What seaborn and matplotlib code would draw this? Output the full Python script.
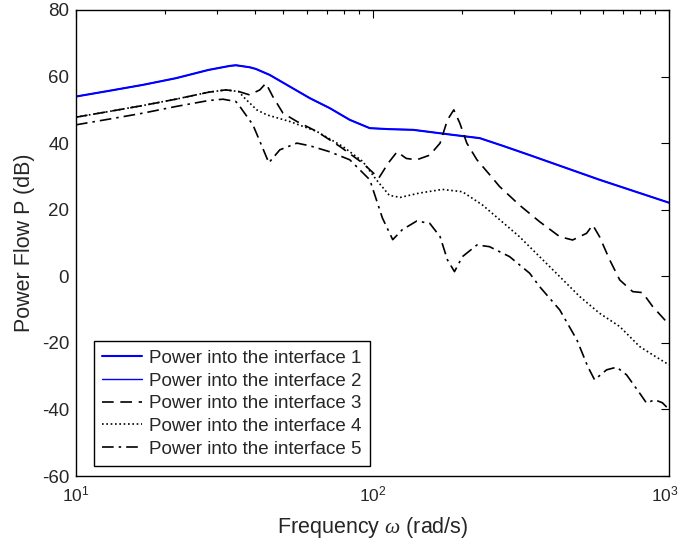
import numpy as np
import pandas as pd
import seaborn as sns
import matplotlib.pyplot as plt
import matplotlib.transforms as mtransforms

# values (frequency in rad/s, power in dB)
freq_12 = [10, 12.9, 16.8, 21.7, 28, 33, 34.6, 38.5, 40.4, 45, 52.6, 61.5, 71.8, 83.8,
           97.9, 114, 137, 186, 230, 275, 339, 583, 1000]
p_12 = [54.0, 55.7, 57.5, 59.5, 62.0, 63.2, 63.4, 62.8, 62.3, 60.5, 57.0, 53.5, 50.5, 47.0,
        44.5, 44.2, 44.0, 42.5, 41.5, 39.2, 36.4, 29.0, 22.1]

freq_3 = [10, 12.9, 16.8, 21.7, 28, 32, 35.4, 38.5, 41.7, 43.7, 46.1, 49.9, 55.6, 64.9,
          77.6, 92.7, 105, 113, 121, 130, 141, 156, 169, 179, 188, 197, 208, 225, 254,
          268, 313, 366, 428, 473, 527, 553, 583, 631, 682, 754, 814, 881, 1000]
p_3 = [47.8, 49.5, 51.3, 53.2, 55.3, 56.0, 55.5, 54.5, 56.0, 58.0, 54.0, 49.0, 46.5, 43.5,
       39.0, 34.0, 29.5, 34.0, 37.4, 35.4, 35.0, 36.4, 40.0, 47.0, 50.0, 46.0, 40.0, 35.0, 29.5,
       27.0, 21.4, 16.4, 11.9, 10.9, 12.9, 15.4, 11.9, 4.9, -1.1, -4.6, -4.9, -9.1, -14.5]

freq_4 = [10, 12.9, 16.8, 21.7, 28, 32, 35.4, 36.6, 40.7, 44, 52.6, 64.9, 79.4, 92.7, 103,
          114, 124, 144, 172, 201, 235, 275, 313, 366, 428, 500, 583, 682, 796, 881, 1000]
p_4 = [47.8, 49.5, 51.3, 53.2, 55.3, 56.0, 55.5, 54.0, 50.0, 48.5, 46.5, 43.5, 39.0, 34.5, 29.0,
       24.3, 23.7, 25.0, 26.1, 25.4, 21.4, 16.2, 11.9, 5.9, -0.1, -6.1, -11.1, -15.1, -21.1,
       -23.6, -26.6]

freq_5 = [10, 12.9, 16.8, 21.7, 28, 31.3, 34.6, 35.7, 39.5, 42.4, 44.7, 48.7, 55.6, 61.5,
          71.8, 83.8, 97.9, 108, 117, 126, 141, 156, 169, 179, 189, 201, 225, 248, 290, 339,
          366, 428, 489, 532, 561, 616, 666, 719, 796, 840, 894, 950, 1000]
p_5 = [45.5, 47.2, 49.0, 51.0, 52.8, 53.2, 52.5, 51.0, 45.5, 39.0, 34.1, 38.0, 40.0, 39.2,
       37.4, 35.0, 29.0, 17.5, 11.0, 14.0, 16.6, 15.9, 11.9, 4.9, 1.4, 5.9, 9.4, 8.9, 5.9, 0.9,
       -3.1, -10.1, -19.1, -27.1, -31.1, -28.1, -27.3, -29.6, -35.1, -38.1, -37.1, -38.0, -40.0]

labels = ["Power into the interface %d" % i for i in range(1, 6)]

sns.set_style("white")
plt.rcParams["font.family"] = ["Liberation Sans", "DejaVu Sans"]
plt.rcParams["mathtext.fontset"] = "custom"
plt.rcParams["mathtext.rm"] = "Liberation Sans"
plt.rcParams["mathtext.it"] = "Liberation Serif:italic"
plt.rcParams["axes.unicode_minus"] = False

fig = plt.figure(figsize=(6.81, 5.46), dpi=100)
ax = fig.add_axes([0.1116, 0.1282, 0.8708, 0.8535])

sns.lineplot(x=freq_12, y=p_12, ax=ax, color="#0000ff", lw=1.5, label=labels[0])
sns.lineplot(x=freq_12, y=p_12, ax=ax, color="#0000ff", lw=1.0, label=labels[1])
sns.lineplot(x=freq_3, y=p_3, ax=ax, color="black", lw=1.2, label=labels[2],
             dashes=False, linestyle=(0, (7, 4)))
sns.lineplot(x=freq_4, y=p_4, ax=ax, color="black", lw=1.2, label=labels[3],
             dashes=False, linestyle=(0, (1, 1.6)))
sns.lineplot(x=freq_5, y=p_5, ax=ax, color="black", lw=1.2, label=labels[4],
             dashes=False, linestyle=(0, (7, 3, 1.5, 3)))

ax.set_xscale("log")
ax.set_xlim(10, 1000)
ax.set_ylim(-60, 80)
ax.set_yticks(np.arange(-60, 81, 20))
ax.tick_params(which="both", direction="in", top=True, right=True, labelsize=13.5,
               color="black", width=0.8)
ax.tick_params(which="major", length=6, pad=5)
ax.tick_params(which="minor", length=3)
ax.tick_params(axis="x", which="major", labelsize=12.5, pad=6)
for s in ax.spines.values():
    s.set_color("black")
    s.set_linewidth(1.0)

ax.set_xlabel(r"Frequency $\omega$ (rad/s)", fontsize=15.5, labelpad=8)
ax.set_ylabel("Power Flow P (dB)", fontsize=15.5, labelpad=5)

# keep the 10^3 label inside the figure edge
fig.canvas.draw()
last = [t for t in ax.get_xticklabels() if t.get_position()[0] >= 999][0]
last.set_transform(last.get_transform() +
                   mtransforms.ScaledTranslation(-4 / 100, 0, fig.dpi_scale_trans))

leg = ax.legend(loc="lower left", bbox_to_anchor=(0.03, 0.021), borderaxespad=0,
                fontsize=13.5, frameon=True, fancybox=False, framealpha=1,
                edgecolor="black", handlelength=2.1, handletextpad=0.4,
                labelspacing=0.3, borderpad=0.45)
leg.get_frame().set_linewidth(1.0)

fig.savefig("out.png", dpi=100)
